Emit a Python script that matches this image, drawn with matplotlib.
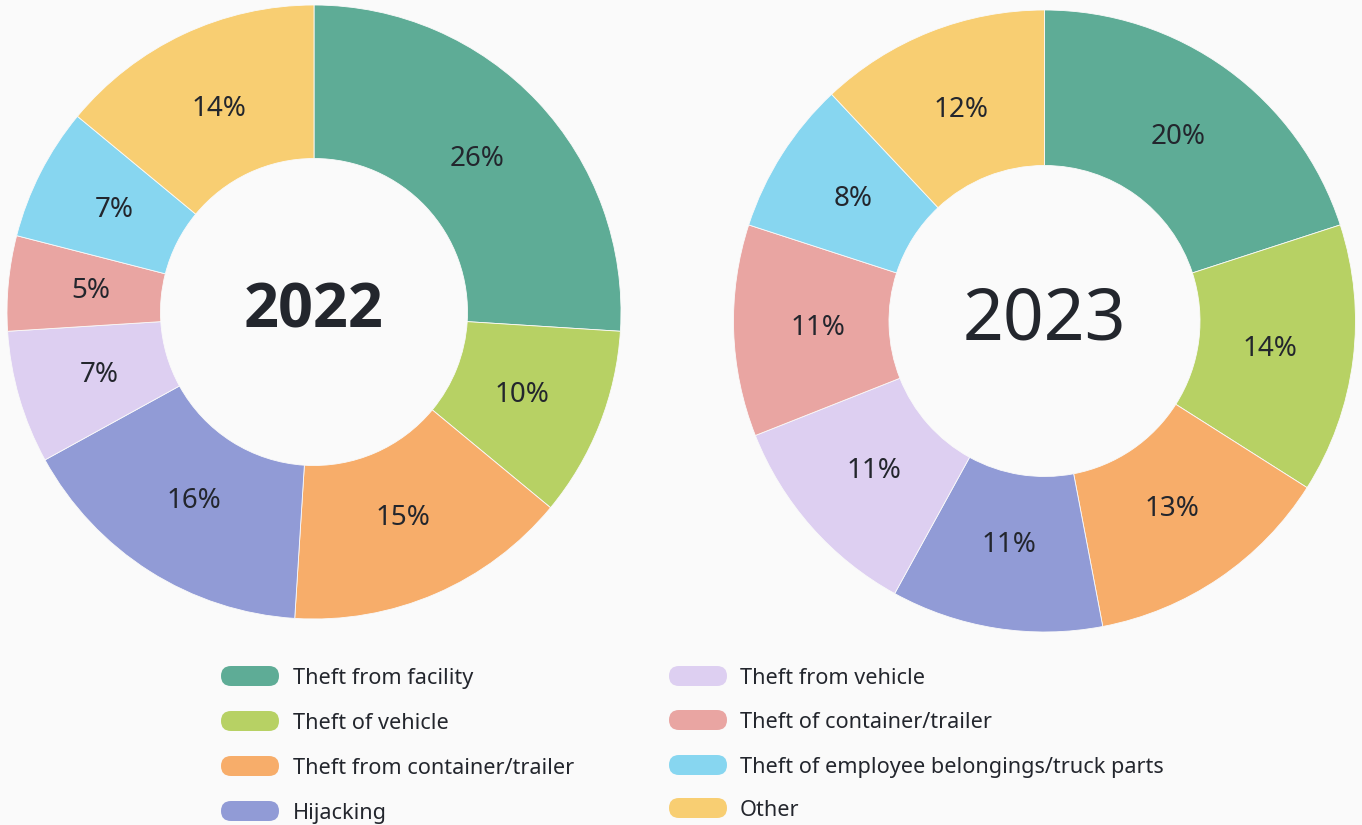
import matplotlib
matplotlib.use("Agg")
import matplotlib.pyplot as plt
from matplotlib.patches import FancyBboxPatch

plt.rcParams['font.family'] = ['Noto Sans', 'DejaVu Sans']

categories = ["Theft from facility", "Theft of vehicle", "Theft from container/trailer",
              "Hijacking", "Theft from vehicle", "Theft of container/trailer",
              "Theft of employee belongings/truck parts", "Other"]
values_2022 = [26, 10, 15, 16, 7, 5, 7, 14]
values_2023 = [20, 14, 13, 11, 11, 11, 8, 12]
colors = ["#5EAC96", "#B7D164", "#F7AD6A", "#919BD6", "#DDCFF1", "#E9A5A2", "#87D6F0", "#F8CE72"]

W, H = 1362, 825
BG = "#FAFAFA"
TXT = "#23262D"
fig = plt.figure(figsize=(W / 100, H / 100), dpi=100, facecolor=BG)


def px_axes(cx, cy, r):
    return fig.add_axes([(cx - r) / W, (H - cy - r) / H, 2 * r / W, 2 * r / H])


def donut(ax, vals, year, weight, size, family):
    ax.set_facecolor(BG)
    ax.pie(vals, colors=colors, startangle=90, counterclock=False, radius=1,
           wedgeprops=dict(width=0.5, edgecolor=BG, linewidth=0.6),
           labels=[f"{v}%" for v in vals], labeldistance=0.73,
           textprops=dict(color=TXT, fontsize=20, ha='center', va='center'))
    ax.set_xlim(-1, 1)
    ax.set_ylim(-1, 1)
    ax.set_aspect('equal')
    ax.axis('off')
    ax.text(0, 0, year, ha='center', va='center', fontsize=size, fontweight=weight,
            color=TXT, family=family)


ax1 = px_axes(314, 312, 307)
donut(ax1, values_2022, "2022", "bold", 44, ['Open Sans', 'DejaVu Sans'])
ax2 = px_axes(1044.5, 321, 311)
donut(ax2, values_2023, "2023", "normal", 51.5, ['Noto Sans', 'DejaVu Sans'])

# Legend
lax = fig.add_axes([0, 0, 1, 1])
lax.set_xlim(0, W)
lax.set_ylim(H, 0)
lax.axis('off')
lax.patch.set_alpha(0)
cols = [(221, 293, [676, 721, 766, 811]), (669, 740, [676, 720, 765, 808])]
for i, (cat, col) in enumerate(zip(categories, colors)):
    mx, tx, ys = cols[i // 4]
    y = ys[i % 4]
    lax.add_patch(FancyBboxPatch((mx, y - 10), 58, 20,
                                 boxstyle="round,pad=0,rounding_size=10",
                                 facecolor=col, edgecolor='none'))
    lax.text(tx, y + 8, cat, ha='left', va='baseline', fontsize=15.6, color=TXT)

fig.savefig("out.png", dpi=100, facecolor=BG)
